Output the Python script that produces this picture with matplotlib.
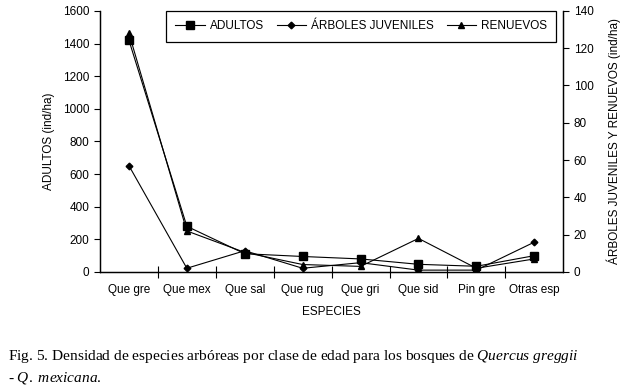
import numpy as np
import matplotlib
matplotlib.use("Agg")
import matplotlib.pyplot as plt

# datos
especies = ["Que gre", "Que mex", "Que sal", "Que rug", "Que gri", "Que sid", "Pin gre", "Otras esp"]
adultos = [1420, 280, 112, 95, 80, 47, 35, 100]          # eje izquierdo
juveniles = [57, 2, 11.4, 2, 5, 1, 1, 16]                # eje derecho
renuevos = [128, 22, 10.5, 4, 3, 18, 2, 7]               # eje derecho

plt.rcParams["font.family"] = ["Liberation Sans", "DejaVu Sans"]
plt.rcParams["font.size"] = 8.5
plt.rcParams["mathtext.fontset"] = "custom"
plt.rcParams["mathtext.rm"] = "Liberation Serif"
plt.rcParams["mathtext.it"] = "Liberation Serif:italic"

fig = plt.figure(figsize=(6.21, 3.88), dpi=100)
ax = fig.add_axes([0.161, 0.299, 0.746, 0.673])
ax2 = ax.twinx()

x = np.arange(len(especies))
l1, = ax.plot(x, adultos, color="black", lw=0.8, marker="s", ms=5.5, label="ADULTOS")
l2, = ax2.plot(x, juveniles, color="black", lw=0.8, marker="D", ms=3.4, label="ÁRBOLES JUVENILES")
l3, = ax2.plot(x, renuevos, color="black", lw=0.8, marker="^", ms=4.5, label="RENUEVOS")

ax.set_xlim(-0.5, len(especies) - 0.5)
ax.set_ylim(0, 1600)
ax.set_yticks(np.arange(0, 1601, 200))
ax2.set_ylim(0, 140)
ax2.set_yticks(np.arange(0, 141, 20))

# etiquetas centradas, marcas entre categorias
ax.set_xticks(np.arange(0.5, len(especies) - 0.5, 1))
ax.set_xticklabels([])
ax.set_xticks(x, minor=True)
ax.set_xticklabels(especies, minor=True)
ax.tick_params(axis="x", which="major", direction="inout", length=8, width=0.8)
ax.tick_params(axis="x", which="minor", length=0, pad=9)
ax.tick_params(axis="y", direction="out", length=4, width=0.8)
ax2.tick_params(axis="y", direction="out", length=4, width=0.8)

for a in (ax, ax2):
    a.spines["top"].set_visible(False)
    for s in ("left", "right", "bottom"):
        a.spines[s].set_linewidth(0.9)

ax.set_xlabel("ESPECIES", labelpad=7)
ax.set_ylabel("ADULTOS (ind/ha)", labelpad=6)
ax2.set_ylabel("ÁRBOLES JUVENILES Y RENUEVOS (ind/ha)", labelpad=9)

leg = ax2.legend(handles=[l1, l2, l3], loc="upper right", ncol=3, frameon=True,
                 fancybox=False, edgecolor="black", framealpha=1,
                 bbox_to_anchor=(0.985, 1.0), handlelength=2.5, handletextpad=0.4,
                 columnspacing=1.1, borderpad=0.8, borderaxespad=0, fontsize=8.5)
leg.get_frame().set_linewidth(0.9)

fig.text(0.013, 0.073, "Fig. 5. Densidad de especies arbóreas por clase de edad para los bosques de $\\it{Quercus}$ $\\it{greggii}$",
         family="Liberation Serif", fontsize=11.1)
fig.text(0.013, 0.018, "- $\\it{Q.}$ $\\it{mexicana}$.", family="Liberation Serif", fontsize=11.1)

fig.savefig("out.png", dpi=100)
